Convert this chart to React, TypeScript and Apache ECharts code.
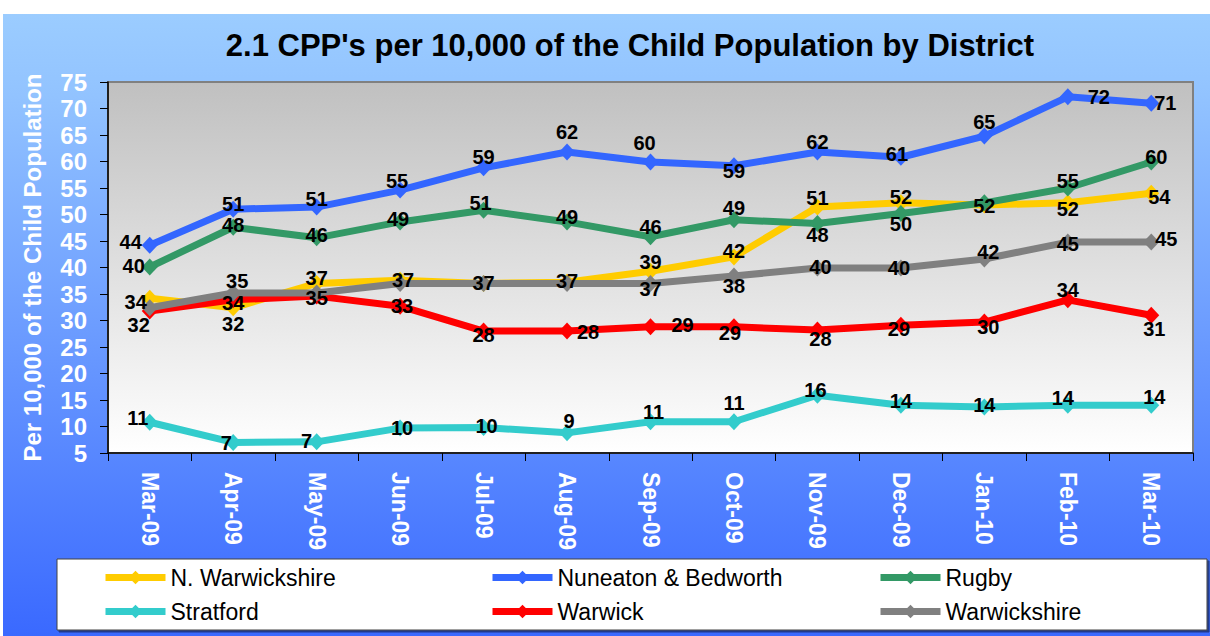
import React, { useEffect, useRef } from "react";
import * as echarts from "echarts";

const categories = ["Mar-09", "Apr-09", "May-09", "Jun-09", "Jul-09", "Aug-09", "Sep-09", "Oct-09", "Nov-09", "Dec-09", "Jan-10", "Feb-10", "Mar-10"];

const seriesNames = ["N. Warwickshire", "Nuneaton & Bedworth", "Rugby", "Stratford", "Warwick", "Warwickshire"];

const nWarwickshire = [34.2, 32.4, 37, 37.6, 37, 37.2, 39.3, 42, 51.4, 52.2, 51.8, 52.2, 54];
const nuneaton = [44.2, 51, 51.4, 54.6, 58.8, 61.8, 59.9, 59.2, 61.8, 60.8, 64.8, 72.2, 71];
const rugby = [40.1, 47.6, 45.6, 48.6, 50.8, 48.6, 45.8, 49, 48.3, 50.2, 52.2, 55, 59.9];
const stratford = [10.8, 7, 7.1, 9.7, 9.8, 8.8, 10.9, 10.9, 15.9, 14, 13.7, 14, 14];
const warwick = [31.8, 33.9, 34.6, 32.7, 28, 28, 28.8, 28.8, 28.2, 29.1, 29.7, 33.9, 31];
const warwickshire = [32.4, 35.2, 35.2, 37, 37, 37, 37, 38.4, 39.9, 39.9, 41.6, 44.8, 44.8];

const yTickMin = 5;
const yTickMax = 75;
const yTickStep = 5;

// label offsets (style only), null = label hidden (overlapped in the original)
const offNW = [[-14, 4], [0, 16], [0, -5], null, null, null, [0, -9], [0, -6], [0, -9], [0, -6], null, [0, 6], [8, 4]];
const offNB = [[-19, -3], [0, -5], [0, -8], [-3, -9], [0, -11], [0, -20], [-6, -19], [0, 5], [0, -10], [-4, -3], [0, -14], [31, 0], [14, 0]];
const offRU = [[-16, -1], [0, -2], [0, -3], [-2, -3], [-3, -7], [0, -5], [0, -10], [0, -12], [0, 11], [0, 11], [0, 3], [0, -7], [5, -5]];
const offST = [[-12, -4], [-7, 1], [-10, -1], [2, 0], [3, -2], [2, -12], [3, -10], [0, -19], [-2, -5], [0, -4], [0, -2], [-5, -7], [3, -8]];
const offWA = [null, [0, 3], [0, 2], [2, 0], [0, 4], [21, 1], [32, -2], [-4, 6], [3, 9], [-2, 4], [4, 5], [0, -10], [3, 14]];
const offWS = [[-11, 17], [4, -12], null, [3, -3], [0, 0], [0, -2], [0, 6], [0, 10], [3, -1], [-2, 0], [4, -7], [0, 2], [15, -3]];

const colors = ["#FFCC00", "#3366FF", "#339966", "#33CCCC", "#FF0000", "#808080"];

const FONT = "'Liberation Sans', Arial, Helvetica, sans-serif";

export default function App() {
  const ref = useRef<HTMLDivElement>(null);

  useEffect(() => {
    if (!ref.current) return;
    const chart = echarts.init(ref.current, null, { renderer: "svg" });

    const allData = [nWarwickshire, nuneaton, rugby, stratford, warwick, warwickshire];
    const allOffsets = [offNW, offNB, offRU, offST, offWA, offWS];

    const lineSeries = allData.map((arr, si) => ({
      name: seriesNames[si],
      type: "line",
      symbol: "diamond",
      symbolSize: [16, 17],
      color: colors[si],
      lineStyle: { width: 7, color: colors[si] },
      itemStyle: { color: colors[si] },
      z: 2 + si,
      label: { show: false },
      data: arr,
    }));

    // value labels drawn above every line
    const labelSeries = allData.map((arr, si) => ({
      name: "labels " + seriesNames[si],
      type: "scatter",
      symbol: "circle",
      symbolSize: 1,
      itemStyle: { color: "transparent", opacity: 1 },
      z: 20,
      silent: true,
      label: {
        show: true,
        position: "inside",
        color: "#000",
        opacity: 1,
        fontSize: 20,
        fontWeight: "bold",
        fontFamily: FONT,
        formatter: (p: any) => String(Math.round(Array.isArray(p.value) ? p.value[1] : p.value)),
      },
      data: arr.map((v, i) => {
        const off = allOffsets[si][i];
        return off
          ? { value: v, label: { show: true, offset: off } }
          : { value: v, label: { show: false } };
      }),
    }));

    const legendPos = [
      { left: 102, top: 566 },
      { left: 489, top: 566 },
      { left: 877, top: 566 },
      { left: 102, top: 600 },
      { left: 489, top: 600 },
      { left: 877, top: 600 },
    ];

    const legends = seriesNames.map((n, i) => ({
      data: [n],
      left: legendPos[i].left,
      top: legendPos[i].top,
      padding: 0,
      itemWidth: 60,
      itemHeight: 17,
      itemGap: 0,
      lineStyle: { width: 7 },
      textStyle: { fontSize: 23, color: "#000", fontFamily: FONT, padding: [0, 0, 0, 0] },
      selectedMode: false,
      z: 6,
    }));

    chart.setOption({
      animation: false,
      backgroundColor: {
        type: "linear",
        x: 0, y: 0, x2: 0, y2: 1,
        colorStops: [
          { offset: 0, color: "#9DCEFF" },
          { offset: 0.15, color: "#92C3FF" },
          { offset: 1, color: "#3A69FF" },
        ],
      },
      textStyle: { fontFamily: FONT },
      graphic: [
        { type: "rect", shape: { x: 0, y: 0, width: 1210, height: 14 }, style: { fill: "#fff" }, z: 1, silent: true },
        { type: "rect", shape: { x: 0, y: 0, width: 3, height: 636 }, style: { fill: "#fff" }, z: 1, silent: true },
        {
          type: "rect",
          shape: { x: 57, y: 559, width: 1150, height: 71 },
          style: { fill: "#fff", stroke: "#404040", lineWidth: 1, shadowColor: "rgba(0,0,0,0.45)", shadowOffsetX: 2, shadowOffsetY: 2, shadowBlur: 0 },
          z: 3,
          silent: true,
        },
        {
          type: "text",
          x: 630,
          y: 45,
          z: 5,
          style: {
            text: "2.1 CPP's per 10,000 of the Child Population by District",
            fontSize: 31,
            fontWeight: "bold",
            fontFamily: FONT,
            fill: "#000",
            align: "center",
            verticalAlign: "middle",
          },
        },
      ],
      legend: legends,
      grid: {
        left: 108,
        top: 82,
        right: 17,
        bottom: 183,
        show: true,
        borderColor: "#808080",
        borderWidth: 2,
        backgroundColor: {
          type: "linear",
          x: 0, y: 0, x2: 0, y2: 1,
          colorStops: [
            { offset: 0, color: "#C0C0C0" },
            { offset: 1, color: "#FFFFFF" },
          ],
        },
      },
      xAxis: {
        type: "category",
        data: categories,
        boundaryGap: true,
        axisLine: { show: true, lineStyle: { color: "#000", width: 1.5 } },
        axisTick: { show: true, alignWithLabel: false, length: 8, lineStyle: { color: "#000" } },
        axisLabel: {
          rotate: -90,
          margin: 19,
          color: "#fff",
          fontSize: 23,
          fontWeight: "bold",
          fontFamily: FONT,
          interval: 0,
        },
        splitLine: { show: false },
      },
      yAxis: {
        type: "value",
        min: yTickMin,
        max: yTickMax,
        interval: yTickStep,
        name: "Per 10,000 of the Child Population",
        nameLocation: "middle",
        nameRotate: 90,
        nameGap: 64,
        nameTextStyle: { color: "#fff", fontSize: 24, fontWeight: "bold", fontFamily: FONT },
        axisLine: { show: true, lineStyle: { color: "#000", width: 1.5 } },
        axisTick: { show: true, length: 8, lineStyle: { color: "#000" } },
        axisLabel: { color: "#fff", fontSize: 24, fontWeight: "bold", fontFamily: FONT, margin: 21 },
        splitLine: { show: false },
      },
      series: [...lineSeries, ...labelSeries],
    });

    return () => chart.dispose();
  }, []);

  return (
    <div
      ref={ref}
      style={{ position: "absolute", left: 0, top: 0, width: 1210, height: 636 }}
    />
  );
}
